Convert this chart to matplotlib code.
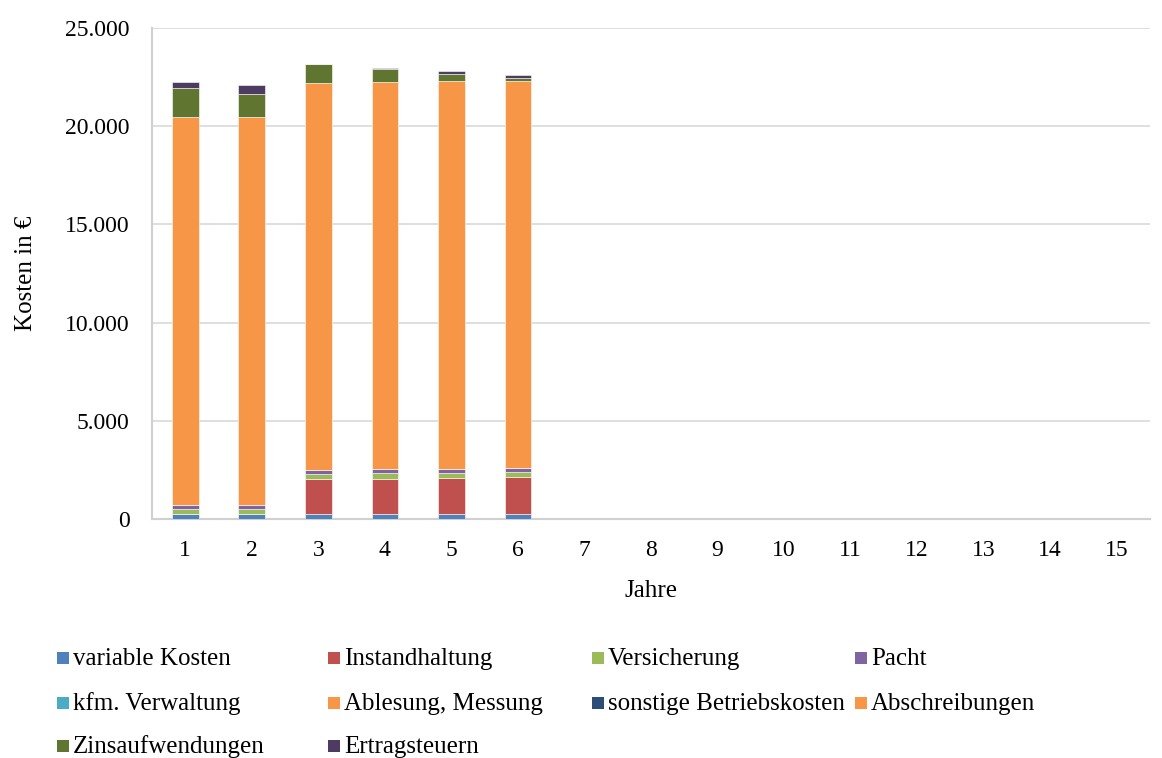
import matplotlib
matplotlib.use("Agg")
import matplotlib.pyplot as plt
from matplotlib.patches import Rectangle
from matplotlib.ticker import FuncFormatter
import numpy as np

plt.rcParams['font.family'] = ['Liberation Serif', 'DejaVu Serif']

years = list(range(1, 16))

variable_kosten = [235, 235, 270, 270, 270, 270]
instandhaltung = [0, 0, 1745, 1780, 1795, 1850]
versicherung = [275, 275, 275, 275, 275, 275]
pacht = [185, 185, 185, 200, 220, 200]
kfm_verwaltung = [0, 0, 0, 0, 0, 0]
ablesung_messung = [0, 0, 0, 0, 0, 0]
sonstige_betriebskosten = [0, 0, 0, 0, 0, 0]
abschreibungen = [19755, 19755, 19740, 19740, 19720, 19720]
zinsaufwendungen = [1497, 1207, 952, 662, 391, 137]
ertragsteuern = [321, 422, 0, 51, 153, 168]

series = [
    ("variable Kosten", variable_kosten, "#4f81bd"),
    ("Instandhaltung", instandhaltung, "#c0504d"),
    ("Versicherung", versicherung, "#9bbb59"),
    ("Pacht", pacht, "#8064a2"),
    ("kfm. Verwaltung", kfm_verwaltung, "#4bacc6"),
    ("Ablesung, Messung", ablesung_messung, "#f79646"),
    ("sonstige Betriebskosten", sonstige_betriebskosten, "#2c4d75"),
    ("Abschreibungen", abschreibungen, "#f79646"),
    ("Zinsaufwendungen", zinsaufwendungen, "#5f7530"),
    ("Ertragsteuern", ertragsteuern, "#4d3b62"),
]

W, H = 1162, 758
fig = plt.figure(figsize=(W / 100, H / 100), dpi=100)
ax = fig.add_axes([152 / W, 1 - 519 / H, (1150 - 152) / W, (519 - 28) / H])

n = len(series[0][1])
x = np.arange(1, n + 1)
bottom = np.zeros(n)
for name, vals, color in series:
    vals = np.array(vals, dtype=float)
    ax.bar(x, vals, width=0.4, bottom=bottom, color=color,
           edgecolor="white", linewidth=0.4, zorder=3)
    bottom += vals

ax.set_xlim(0.5, 15.5)
ax.set_ylim(0, 25000)
ax.set_xticks(years)
ax.set_yticks(np.arange(0, 25001, 5000))
ax.yaxis.set_major_formatter(FuncFormatter(lambda v, p: f"{int(v):,}".replace(",", ".")))
ax.tick_params(axis="y", length=0, labelsize=17, colors="black", pad=16)
ax.tick_params(axis="x", length=0, labelsize=17, colors="black", pad=15)
ax.grid(axis="y", color="#d9d9d9", linewidth=1.2, zorder=0)
for side in ["top", "right"]:
    ax.spines[side].set_visible(False)
for side in ["left", "bottom"]:
    ax.spines[side].set_color("#d0d0d0")
    ax.spines[side].set_linewidth(1.5)

ax.set_xlabel("Jahre", fontsize=18, labelpad=14)
ax.set_ylabel("Kosten in €", fontsize=18, labelpad=20)

# legend laid out row by row in four fixed columns
col_x = [57, 328, 592, 855]
row_y = [658, 703, 746]
for i, (name, _, color) in enumerate(series):
    r, c = divmod(i, 4)
    px, py = col_x[c], row_y[r]
    fig.patches.append(Rectangle((px / W, 1 - (py + 6) / H), 12 / W, 12 / H,
                                 facecolor=color, edgecolor="none",
                                 transform=fig.transFigure, figure=fig))
    fig.text((px + 16) / W, 1 - (py + 7) / H, name, fontsize=18,
             ha="left", va="baseline")

fig.savefig("out.png", dpi=100)
